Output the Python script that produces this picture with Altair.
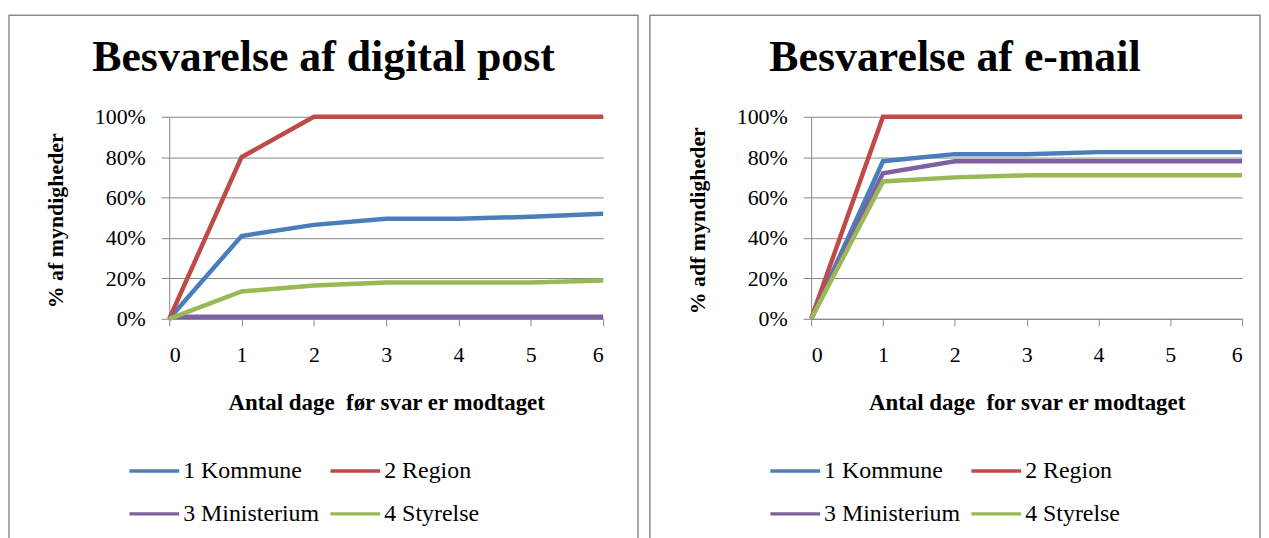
import altair as alt
import pandas as pd

# ---------------- data ----------------
days = [0, 1, 2, 3, 4, 5, 6]
series = ["1 Kommune", "2 Region", "3 Ministerium", "4 Styrelse"]
colors = ["#4A7EBB", "#BE4B48", "#7D60A0", "#98B954"]
y_ticks = [0.0, 0.2, 0.4, 0.6, 0.8, 1.0]

# Besvarelse af digital post
post_kommune = [0.0, 0.41, 0.465, 0.495, 0.495, 0.505, 0.52]
post_region = [0.0, 0.80, 1.0, 1.0, 1.0, 1.0, 1.0]
post_ministerium = [0.01, 0.01, 0.01, 0.01, 0.01, 0.01, 0.01]
post_styrelse = [0.0, 0.135, 0.165, 0.18, 0.18, 0.18, 0.19]

# Besvarelse af e-mail
mail_kommune = [0.0, 0.78, 0.815, 0.815, 0.825, 0.825, 0.825]
mail_region = [0.0, 1.0, 1.0, 1.0, 1.0, 1.0, 1.0]
mail_ministerium = [0.0, 0.72, 0.78, 0.78, 0.78, 0.78, 0.78]
mail_styrelse = [0.0, 0.68, 0.70, 0.71, 0.71, 0.71, 0.71]

FONT = "Liberation Serif"
GRAY = "#868686"


def to_frame(values_by_series):
    rows = []
    for name, vals in zip(series, values_by_series):
        for d, v in zip(days, vals):
            rows.append({"dag": d, "andel": v, "gruppe": name})
    return pd.DataFrame(rows)


def panel(title, ytitle, xtitle, values_by_series, plot_w, box_x, legend_x):
    df = to_frame(values_by_series)
    lines = alt.Chart(df).mark_line(strokeWidth=4.5).encode(
        x=alt.X(
            "dag:Q",
            scale=alt.Scale(domain=[0, 6], nice=False),
            axis=alt.Axis(
                values=days, title=xtitle, grid=False, tickSize=7,
                labelPadding=19, titleY=91, titleBaseline="alphabetic",
                titleFontSize=23, labelFont=FONT, titleFont=FONT,
            ),
        ),
        y=alt.Y(
            "andel:Q",
            scale=alt.Scale(domain=[0, 1]),
            axis=alt.Axis(
                values=y_ticks, format=".0%", title=ytitle, grid=True,
                tickSize=8, labelPadding=16, titleAngle=270, titleX=-114,
                titleY=104, titleAlign="center", titleBaseline="middle",
                labelFont=FONT, titleFont=FONT,
            ),
        ),
        color=alt.Color(
            "gruppe:N",
            scale=alt.Scale(domain=series, range=colors),
            legend=alt.Legend(
                title=None, orient="none", legendX=legend_x, legendY=329,
                direction="horizontal", columns=2, symbolType="stroke",
                symbolSize=2500, symbolStrokeWidth=3.5, labelFont=FONT,
                labelFontSize=24, labelColor="black", labelOffset=2,
                columnPadding=4, rowPadding=4,
            ),
        ),
    )
    frame = alt.Chart(pd.DataFrame({"k": [0]})).mark_rect(
        filled=False, stroke="#8c8c8c", strokeWidth=1.5
    ).encode(
        x=alt.value(box_x[0]), x2=alt.value(box_x[1]),
        y=alt.value(-102), y2=alt.value(430),
    )
    heading = alt.Chart(pd.DataFrame({"t": [title]})).mark_text(
        font=FONT, fontSize=44, fontWeight="bold", color="black",
        align="center", baseline="alphabetic",
    ).encode(
        text="t:N",
        x=alt.value((box_x[0] + box_x[1]) / 2),
        y=alt.value(-46),
    )
    return alt.layer(frame, heading, lines).properties(width=plot_w, height=203)


left = panel(
    "Besvarelse af digital post", "% af myndigheder",
    "Antal dage \u00a0før svar er modtaget",
    [post_kommune, post_region, post_ministerium, post_styrelse],
    436, (-161, 471), -42,
)
right = panel(
    "Besvarelse af e-mail", "% adf myndigheder",
    "Antal dage \u00a0for svar er modtaget",
    [mail_kommune, mail_region, mail_ministerium, mail_styrelse],
    433, (-162, 451), -43,
)

chart = (
    alt.hconcat(left, right, spacing=10)
    .resolve_scale(color="independent")
    .resolve_legend(color="independent")
    .properties(padding={"left": 0, "top": 5, "right": 0, "bottom": 0})
    .configure_view(strokeWidth=0)
    .configure_axis(
        domainColor=GRAY, gridColor=GRAY, tickColor=GRAY,
        labelFont=FONT, labelFontSize=22, labelColor="black",
        titleFont=FONT, titleFontSize=22, titleFontWeight="bold",
        titleColor="black",
    )
)

chart.save("out.html", embed_options={"renderer": "svg", "actions": False})
